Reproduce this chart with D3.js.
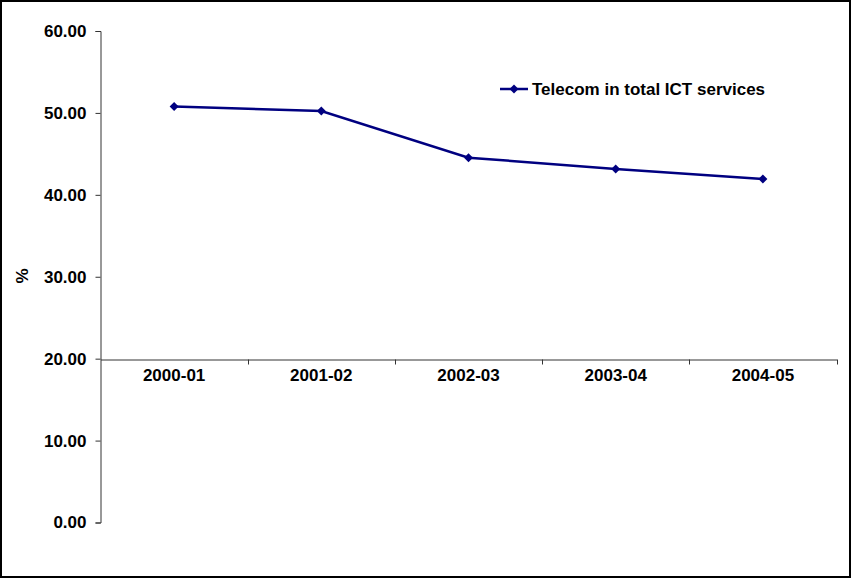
<!DOCTYPE html>
<html><head><meta charset="utf-8">
<script src="https://cdn.jsdelivr.net/npm/d3@7"></script>
<style>html,body{margin:0;padding:0;background:#fff;}svg{display:block;}</style>
</head><body>
<script>
const categories = ["2000-01","2001-02","2002-03","2003-04","2004-05"];
const telecomShare = [50.77, 50.24, 44.54, 43.16, 41.94];
const yTicks = [0,10,20,30,40,50,60];
const seriesName = "Telecom in total ICT services";

const W = 852, H = 579;
const svg = d3.select("body").append("svg").attr("width", W).attr("height", H);
svg.append("rect").attr("x",1).attr("y",1).attr("width",W-3).attr("height",H-3)
  .attr("fill","#fff").attr("stroke","#000").attr("stroke-width",2);

const x = d3.scaleBand().domain(categories).range([100.5, 836.5]);
const y = d3.scaleLinear().domain([0,60]).range([522.5, 31]);
const font = "Liberation Sans, Arial, sans-serif";
const fs = "17px";

// y axis
const yAxis = svg.append("g").attr("transform","translate(100.5,0)")
  .call(d3.axisLeft(y).tickValues(yTicks).tickFormat(d3.format(".2f")).tickSizeOuter(0).tickSize(5).tickPadding(9));
yAxis.select(".domain").attr("stroke","#333").attr("stroke-width",1);
yAxis.selectAll(".tick line").attr("stroke","#333");
yAxis.selectAll("text").attr("font-family",font).attr("font-size",fs).attr("font-weight","bold").attr("fill","#000");

// x axis at y=20
const xAxis = svg.append("g").attr("transform",`translate(0,${Math.round(y(20))+0.5})`)
  .call(d3.axisBottom(x).tickSize(0).tickSizeOuter(0).tickPadding(9));
xAxis.select(".domain").attr("stroke","#333").attr("stroke-width",1);
xAxis.selectAll("text").attr("font-family",font).attr("font-size",fs).attr("font-weight","bold").attr("fill","#000");
// boundary tick marks between categories
const bounds = categories.map(c => x(c)).concat([x.range()[1]]).slice(1);
svg.append("g").selectAll("line").data(bounds).join("line")
  .attr("x1", d => Math.round(d)+0.5).attr("x2", d => Math.round(d)+0.5)
  .attr("y1", Math.round(y(20))+0.5).attr("y2", Math.round(y(20))+5.5)
  .attr("stroke","#333");

// y title
svg.append("text").attr("transform","translate(28,276) rotate(-90)")
  .attr("text-anchor","middle").attr("font-family",font).attr("font-size",fs)
  .attr("font-weight","bold").text("%");

const color = "#000080";
const pts = categories.map((c,i) => [x(c)+x.bandwidth()/2, y(telecomShare[i])]);
svg.append("path").attr("d", d3.line()(pts)).attr("fill","none").attr("stroke",color).attr("stroke-width",2.5);
const r = 4.5;
const diamond = `M0,${-r}L${r},0L0,${r}L${-r},0Z`;
svg.append("g").selectAll("path").data(pts).join("path")
  .attr("transform", d => `translate(${d[0]},${d[1]})`).attr("d", diamond).attr("fill",color);

// legend
const lg = svg.append("g");
lg.append("line").attr("x1",500).attr("x2",528).attr("y1",89).attr("y2",89).attr("stroke",color).attr("stroke-width",2.5);
lg.append("path").attr("transform","translate(514,89)").attr("d",diamond).attr("fill",color);
lg.append("text").attr("x",532).attr("y",95).attr("font-family",font).attr("font-size",fs)
  .attr("font-weight","bold").text(seriesName);
</script>
</body></html>
